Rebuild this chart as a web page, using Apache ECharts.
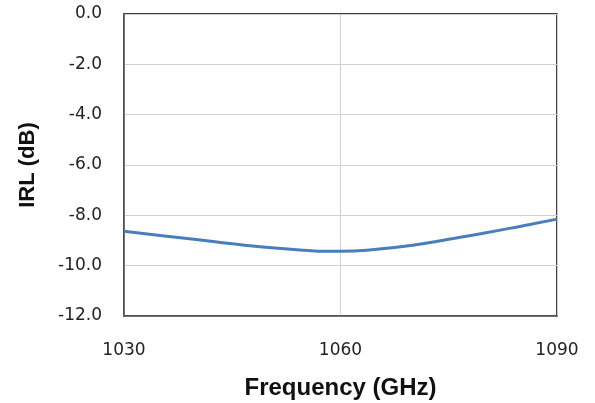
<!DOCTYPE html>
<html>
<head>
<meta charset="utf-8">
<script src="https://cdn.jsdelivr.net/npm/echarts@6/dist/echarts.min.js"></script>
<style>
  html, body { margin: 0; padding: 0; background: #fff; }
  #chart { width: 595px; height: 403px; }
</style>
</head>
<body>
<div id="chart"></div>
<script>
// frequency points (GHz) and IRL values (dB)
const freqs = [1030, 1035, 1040, 1045, 1050, 1055, 1058, 1060, 1065, 1070, 1075, 1080, 1085, 1090]
const irl = [-8.63, -8.80, -8.96, -9.13, -9.28, -9.39, -9.43, -9.43, -9.35, -9.19, -8.95, -8.70, -8.43, -8.15]

const chart = echarts.init(document.getElementById('chart'))

const tickFont = { fontFamily: 'DejaVu Sans', fontSize: 17, color: '#222' }
const titleFont = { fontFamily: 'Liberation Sans', fontWeight: 'bold', color: '#111' }

chart.setOption({
  animation: false,
  grid: {
    left: 124, right: 38, top: 14, bottom: 87,
    outerBoundsMode: 'none',
    show: true, borderColor: '#000', borderWidth: 1.5
  },
  xAxis: {
    type: 'value',
    min: 1030, max: 1090, interval: 30,
    name: 'Frequency (GHz)',
    nameLocation: 'middle',
    nameGap: 60,
    nameTextStyle: { ...titleFont, fontSize: 24 },
    axisLine: { show: true, onZero: false, lineStyle: { color: '#555', width: 1.5 } },
    axisTick: { show: false },
    axisLabel: { ...tickFont, margin: 26, formatter: v => String(v) },
    splitLine: { show: true, lineStyle: { color: '#d0d0d0', width: 1 } }
  },
  yAxis: {
    type: 'value',
    min: -12, max: 0, interval: 2,
    name: 'IRL (dB)',
    nameLocation: 'middle',
    nameGap: 85,
    nameRotate: 90,
    nameTextStyle: { ...titleFont, fontSize: 22 },
    axisLine: { show: true, lineStyle: { color: '#555', width: 1.5 } },
    axisTick: { show: false },
    axisLabel: { ...tickFont, margin: 22, formatter: v => v.toFixed(1) },
    splitLine: { show: true, lineStyle: { color: '#d0d0d0', width: 1 } }
  },
  series: [
    {
      type: 'line',
      data: freqs.map((f, i) => [f, irl[i]]),
      smooth: true,
      showSymbol: false,
      lineStyle: { color: '#4a7ebb', width: 3 }
    }
  ]
})
</script>
</body>
</html>
